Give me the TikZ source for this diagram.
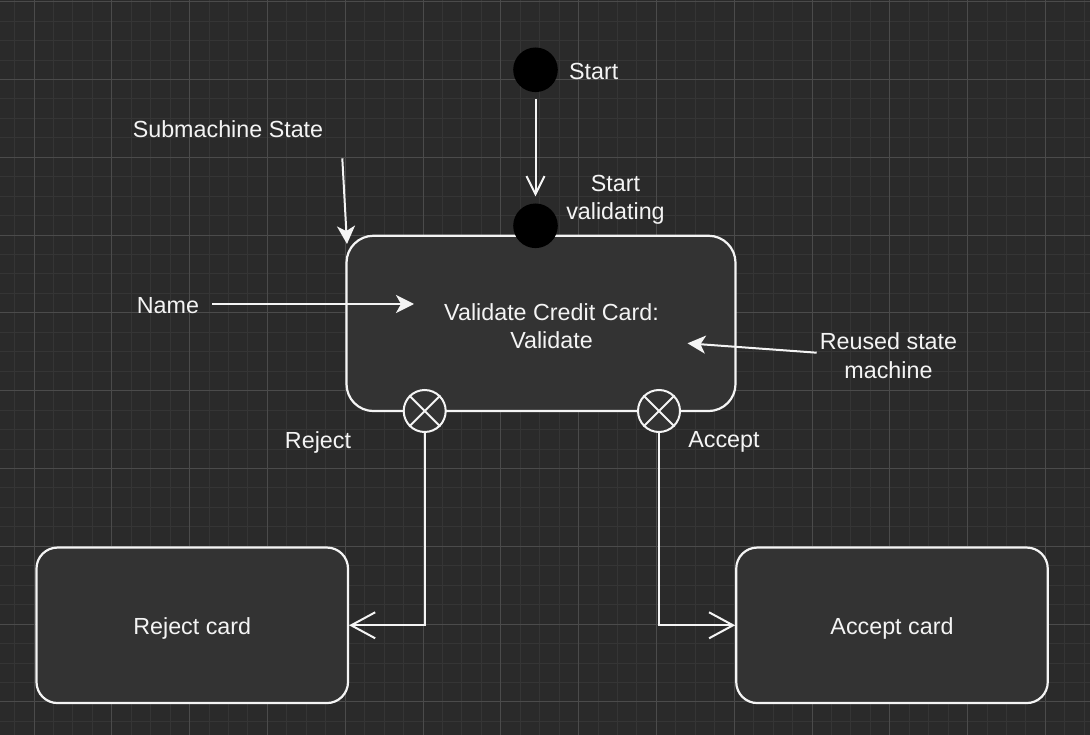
\documentclass[tikz,border=0pt]{standalone}
\usepackage{fontspec}
\setmainfont{Liberation Sans}
\usetikzlibrary{arrows.meta}
\definecolor{bg}{HTML}{2A2A2A}
\definecolor{gridminor}{HTML}{353535}
\definecolor{gridmajor}{HTML}{4B4B4B}
\definecolor{boxfill}{HTML}{333333}
\definecolor{ink}{HTML}{F4F4F4}
\tikzset{
  lbl/.style={text=ink, inner sep=0pt, align=center},
  statebox/.style={draw=ink, line width=2.2pt, fill=boxfill, inner sep=0pt},
  dot/.style={circle, fill=black, minimum size=44.6pt, inner sep=0pt},
  exitpt/.style={circle, draw=ink, line width=2pt, fill=boxfill, minimum size=42pt, inner sep=0pt},
  openarrow/.style={draw=ink, line width=2pt, -{Straight Barb[length=24pt, width=26pt, line width=2pt]}},
  openarrowsmall/.style={draw=ink, line width=2pt, -{Straight Barb[length=18pt, width=18pt, line width=2pt]}},
  fillarrow/.style={draw=ink, line width=2pt, -{Stealth[length=18pt, width=18pt, inset=5pt]}},
  gminor/.style={draw=gridminor, line width=1pt},
  gmajor/.style={draw=gridmajor, line width=1pt}
}
\begin{document}
\begin{tikzpicture}[x=1pt, y=-1pt, font=\fontsize{23.3}{28.5}\selectfont]
\useasboundingbox (0,0) rectangle (1090,735);
\fill[bg] (0,0) rectangle (1090,735);
% grid
\foreach \k in {0,...,55} {
  \pgfmathsetmacro\xx{14.55+19.45*\k}
  \draw[gminor] (\xx,0) -- (\xx,735);
}
\foreach \k in {0,...,37} {
  \pgfmathsetmacro\yy{1.7+19.45*\k}
  \draw[gminor] (0,\yy) -- (1090,\yy);
}
\foreach \k in {1,5,...,53} {
  \pgfmathsetmacro\xx{14.55+19.45*\k}
  \draw[gmajor] (\xx,0) -- (\xx,735);
}
\foreach \k in {0,4,...,36} {
  \pgfmathsetmacro\yy{1.7+19.45*\k}
  \draw[gmajor] (0,\yy) -- (1090,\yy);
}

% boxes
\node[statebox, rounded corners=27pt, minimum width=389pt, minimum height=175.3pt] (vcc) at (541,323.4) {};
\node[lbl] (vcctext) at (551.5,326) {Validate Credit Card:\\Validate};
\node[statebox, rounded corners=21pt, minimum width=311.5pt, minimum height=155.5pt] (rejcard) at (192.25,625.3) {};
\node[lbl] (rejtext) at (192.25,628) {Reject card};
\node[statebox, rounded corners=21pt, minimum width=311.5pt, minimum height=155.5pt] (acccard) at (892,625.3) {};
\node[lbl] (acctext) at (892,628) {Accept card};

% start points
\node[dot] (start) at (535.5,69.8) {};
\node[lbl, anchor=west] (startlbl) at (569,71.5) {Start};
\node[dot] (startval) at (535.5,225.8) {};
\node[lbl] (startvallbl) at (615.5,200) {Start\\validating};
\draw[openarrowsmall, shorten <=7pt, shorten >=7pt] (start.south) -- (startval.north);

% exit points
\node[exitpt] (rej) at (424.7,411) {};
\draw[draw=ink, line width=2pt] (rej.north west) -- (rej.south east) (rej.north east) -- (rej.south west);
\node[exitpt] (acc) at (659,411) {};
\draw[draw=ink, line width=2pt] (acc.north west) -- (acc.south east) (acc.north east) -- (acc.south west);
\node[lbl] (rejlbl) at (318,442) {Reject};
\node[lbl] (acclbl) at (724,442) {Accept};
\draw[openarrow] (rej.south) |- (rejcard.east);
\draw[openarrow] (acc.south) |- (acccard.west);

% annotations
\node[lbl] (submlbl) at (228,129.5) {Submachine State};
\coordinate (submA) at (342.3,158.3);
\coordinate (submB) at (347,244);
\draw[fillarrow] (submA) -- (submB);

\node[lbl] (namelbl) at (168,305.5) {Name};
\coordinate (nameA) at (212,304);
\coordinate (nameB) at (414,304);
\draw[fillarrow] (nameA) -- (nameB);

\node[lbl] (reusedlbl) at (888.5,355.5) {Reused state\\machine};
\coordinate (reuA) at (816.7,352.7);
\coordinate (reuB) at (687.5,343.3);
\draw[fillarrow] (reuA) -- (reuB);
\end{tikzpicture}
\end{document}
